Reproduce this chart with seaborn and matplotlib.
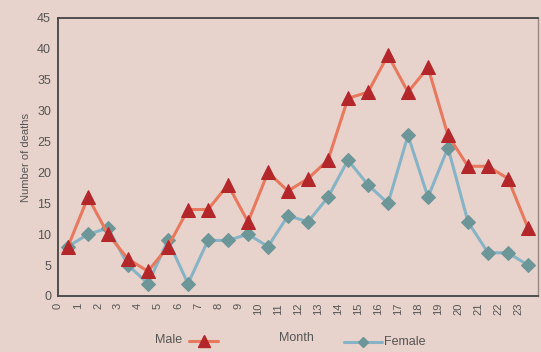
import numpy as np
import pandas as pd
import matplotlib
matplotlib.use("Agg")
import matplotlib.pyplot as plt
import seaborn as sns
from matplotlib.lines import Line2D

months = list(range(24))
male = [8, 16, 10, 6, 4, 8, 14, 14, 18, 12, 20, 17, 19, 22, 32, 33, 39, 33, 37, 26, 21, 21, 19, 11]
female = [8, 10, 11, 5, 2, 9, 2, 9, 9, 10, 8, 13, 12, 16, 22, 18, 15, 26, 16, 24, 12, 7, 7, 5]
tick_labels = [str(m) for m in months]

sns.set_theme(style="white")
plt.rcParams['font.family'] = ['Liberation Sans', 'DejaVu Sans']

bg = "#E7D3CB"
male_line = "#E8785E"
male_mark = "#B3262A"
fem_line = "#86B4C6"
fem_mark = "#6C9698"
text_col = "#555555"

df = pd.DataFrame({"pos": [m + 0.5 for m in months], "Male": male, "Female": female})

fig = plt.figure(figsize=(5.41, 3.52), dpi=100, facecolor=bg)
ax = fig.add_axes([58/541, 1 - 296/352, (538-58)/541, (296-18)/352])
ax.set_facecolor(bg)

sns.lineplot(data=df, x="pos", y="Female", ax=ax, color=fem_line, lw=2.2,
             marker="D", markersize=7, markerfacecolor=fem_mark, markeredgecolor=fem_mark, zorder=3)
sns.lineplot(data=df, x="pos", y="Male", ax=ax, color=male_line, lw=2.2,
             marker="^", markersize=10, markerfacecolor=male_mark, markeredgecolor=male_mark, zorder=4)

ax.set_xlim(0, 24)
ax.set_ylim(0, 45)
ax.set_xticks(months)
ax.set_xticklabels(tick_labels, rotation=90, fontsize=8, color=text_col)
ax.set_xticks(range(25), minor=False)
ax.set_xticklabels(tick_labels + [""], rotation=90, fontsize=8, color=text_col)
ax.set_yticks(range(0, 46, 5))
ax.set_yticklabels([str(v) for v in range(0, 46, 5)], fontsize=9, color=text_col)
ax.tick_params(axis="both", direction="out", length=3, width=1, color="#444444", pad=2)
ax.set_xlabel("")
ax.set_ylabel("Number of deaths", fontsize=8, color=text_col, labelpad=4)

for s in ["left", "bottom", "top"]:
    ax.spines[s].set_color("#444444")
    ax.spines[s].set_linewidth(1.3)
ax.spines["right"].set_color("#9a8a85")
ax.spines["right"].set_linewidth(1)

# bottom legend-like annotations
fig.text(155/541, 1 - 340/352, "Male", fontsize=9, color=text_col, va="center", ha="left")
fig.add_artist(Line2D([189/541, 218/541], [1 - 341/352] * 2, color=male_line, lw=2.2,
                      transform=fig.transFigure))
fig.add_artist(Line2D([204/541], [1 - 341/352], marker="^", markersize=8, color=male_mark,
                      transform=fig.transFigure))
fig.text(296/541, 1 - 338/352, "Month", fontsize=9, color=text_col, va="center", ha="center")
fig.add_artist(Line2D([344/541, 382/541], [1 - 342/352] * 2, color=fem_line, lw=2.2,
                      transform=fig.transFigure))
fig.add_artist(Line2D([363/541], [1 - 342/352], marker="D", markersize=5, color=fem_mark,
                      transform=fig.transFigure))
fig.text(384/541, 1 - 342/352, "Female", fontsize=9, color=text_col, va="center", ha="left")

fig.savefig("out.png", dpi=100, facecolor=bg)
